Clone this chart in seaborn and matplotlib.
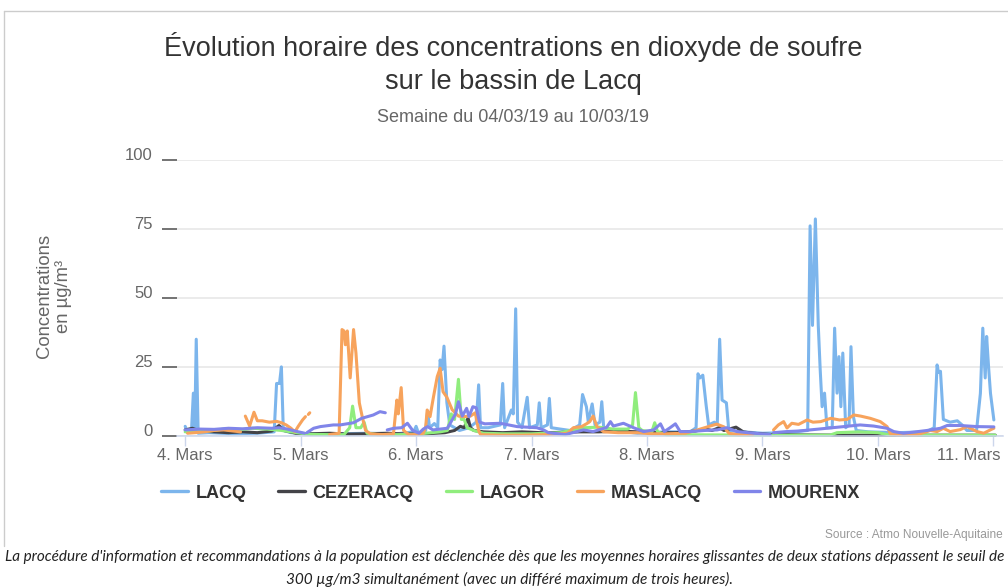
import numpy as np
import pandas as pd
import matplotlib
matplotlib.use("Agg")
import matplotlib.pyplot as plt
from matplotlib.lines import Line2D
from matplotlib.transforms import ScaledTranslation
import seaborn as sns

sns.set_theme(style="white")
plt.rcParams['font.family'] = ['Liberation Sans', 'DejaVu Sans']

# heures depuis le 4 mars 00h ; None = coupure de la série
stations = ["LACQ", "CEZERACQ", "LAGOR", "MASLACQ", "MOURENX"]
colors = ["#7cb5ec", "#434348", "#90ed7d", "#f7a35c", "#8085e9"]
day_labels = ["4. Mars", "5. Mars", "6. Mars", "7. Mars", "8. Mars", "9. Mars", "10. Mars", "11. Mars"]

lacq_h = [0.0, 0.5, 1.3, 1.7, 2.0, 2.3, 2.7, 5, 10, 15, 18.5, 19.0, 19.6, 20.0, 20.4, 22, 26, 32, 38, 44, 47.5,
          48.0, 48.5, 50.0, 50.4, 50.8, 51.8, 52.5, 53.0, 53.4, 53.8, 54.4, 55, 56, 57, 59, 60.5, 61.0, 61.4, 63,
          65.5, 66.0, 66.4, 67.8, 68.2, 68.7, 69.1, 70, 71.1, 71.6, 73.2, 73.6, 74.0, 75.3, 75.7, 76.1, 78, 80,
          82.0, 82.6, 83.4, 83.8, 84.6, 85.2, 86.2, 86.6, 87.0, 89, 94, 100, 105, 106.2, 106.6, 107.0, 107.6,
          108.3, 108.8, 110.0, 110.6, 111.1, 111.6, 112.5, 113.0, 116, 120, 125, 129.4, 129.9, 130.4, 131.0,
          131.6, 132.0, 132.4, 132.9, 133.4, 134.5, 135.0, 135.5, 135.9, 136.3, 136.7, 137.3, 138.0, 138.4,
          138.9, 139.5, 142, 148, 154, 155.7, 156.3, 156.6, 157.0, 157.6, 159, 160.5, 161.5, 162.5, 164.5,
          165.3, 165.8, 166.3, 166.6, 167.0, 167.4, 168.1]
lacq_v = [3.5, 1.2, 1.5, 15.5, 3, 35, 1, 1.2, 0.8, 1, 1.5, 19, 19, 25, 2, 1.2, 0.8, 0.8, 1, 0.8, 1.5,
          3.5, 1, 2, 9, 3, 4.5, 3, 27.5, 24, 32.5, 12, 4, 3, 2, 3, 5, 18.5, 3, 3,
          4, 19, 3, 9.4, 8, 46, 5, 3, 14, 3, 4, 12, 3, 4, 13.6, 3, 2.5, 2,
          4, 15, 10.6, 5, 11.6, 4, 5, 12.4, 3, 2, 1, 1.5, 1.5, 3, 22.5, 21, 22,
          11, 4, 5, 4, 35, 13, 12, 2, 1.5, 1, 1.2, 2, 76, 40, 78.5,
          40, 24, 10.6, 15.5, 3, 3, 39, 15.5, 28.7, 10.6, 30, 3, 4, 32.3,
          7, 2, 1.5, 1.2, 1.5, 3, 25.7, 23, 23.4, 6, 5, 5.5, 4, 2, 2,
          15.4, 39, 21, 36, 25, 15.4, 5.8]

cezeracq_h = [0, 1.5, 3, 6, 9, 12, 15, 18, 19.5, 20.5, 23, 26, 30, 34, 38, 42, 46, 50, 54, 56, 57.2, 58.0,
              58.8, 59.3, 60, 62, 66, 70, 74, 78, 82, 86, 90, 94, 98, 102, 106, 108, 109.5, 111, 112, 114.5,
              116, 118, 122, 128, 136, 144, 156, 168.4]
cezeracq_v = [2.2, 2.8, 1.8, 1.5, 1.2, 1.5, 1.2, 1.8, 3.8, 2, 1, 0.8, 1, 0.7, 0.8, 1, 0.7, 0.8, 1.2, 2, 3.5, 3,
              6.5, 3, 2, 1.5, 1.2, 1.5, 1.2, 1.3, 1.5, 1.5, 1.8, 1.5, 1.2, 1.2, 1.8, 2.5, 2, 3, 2, 3.2,
              1.5, 1, 0.5, 0.4, 0.3, 0.3, 0.3, 0.3]

lagor_h = [0, 2, 5, 8, 11, 14, 17, 20, 22, 24, 26, 30, 33, 34.2, 34.8, 35.5, 36.5, 37.2, 37.8, 40, 44, 48,
           50, 53, 54.5, 55.3, 56.0, 56.8, 57.4, 58.0, 58.6, 60, 62, 66, 72, 78, 80, 83, 86, 89, 92, 93.0,
           93.6, 94.3, 95, 97, 97.6, 98.2, 100, 110, 120, 134, 135.5, 140, 144, 146, 156, 168.4]
lagor_v = [1.5, 2, 1.8, 2.5, 2.2, 2.8, 2.5, 2, 1.5, 1, 0.6, 0.5, 0.5, 3, 10.8, 3, 3, 5, 1, 0.5, 0.5, 0.6,
           1, 1.5, 2, 8, 6, 20.5, 6, 6, 3, 2, 1, 0.8, 0.8, 1.2, 2, 3, 3.2, 2.5, 2.5, 4,
           15.7, 3, 2, 1.5, 4.8, 1.5, 0.5, 0.4, 0.3, 0.3, 1.2, 1.5, 1.2, 0.5, 0.3, 0.3]

maslacq_h = [0.5, 2, 4, 6, 8, 10, 11.5, None,
             12.5, 13.4, 14.3, 15.0, 16.0, 17.5, 19.0, 20.0, 21.0, 22.0, 22.8, 23.5, 24.4, 25.0, None,
             25.6, 25.9, None,
             30, 32.0, 32.6, 33.0, 33.3, 33.7, 34.3, 35.0, 35.5, 36.2, 36.8, 37.5, 38.5, 41, 43.3, 44.0, 44.3,
             44.9, 45.4, 46.5, 48, 49.5, 50.0, 50.3, 50.9, 51.6, 52.4, 53.0, 53.6, 54.4, 55.5, 56.8, 57.8,
             59.3, 60.3, 61.0, 61.4, 65, 70, 75, 79.5, 80.7, 82.4, 83.5, 84.1, 84.8, 85.6, 87, 90, 94, 97,
             100, 104, 106.5, 108.0, 109.5, 110.5, 112.0, 113.0, 115, 118, None,
             122.3, 123.3, 124.4, 125.1, 126.1, 127.5, 129.3, 130.5, 132.1, 134.2, 136, 137.6, 139.0, 140.4,
             142.4, 144.5, 145.9, 146.6, 148, 152, 154.9, 156.3, 157.6, 159.0, 161.1, 162.5, 164.6, 166.0,
             167.7, 168.1]
maslacq_v = [1, 1.2, 1.5, 2, 2.2, 1.8, 1.5, None,
             7.2, 3.6, 8.6, 5.5, 5.5, 5, 5.3, 4.8, 4, 2.8, 1.5, 3.5, 5.8, 7, None,
             7.8, 8.4, None,
             0.5, 1, 38.5, 38, 33, 38, 21, 38.5, 30, 12, 7, 2, 0.8, 0.5, 0.8, 13, 8,
             17.5, 2, 0.5, 0.5, 1, 3.4, 9.4, 7, 14, 21.5, 24.5, 16, 14, 9.5, 7.2, 7,
             7.2, 8.4, 2, 0.5, 0.3, 0.3, 0.5, 1, 3, 3.4, 4.5, 5.2, 7.2, 3.4, 1.5, 1.2, 1.2, 0.8,
             0.8, 1, 2.2, 3, 3.8, 4.3, 3.3, 1, 0.5, 0.5, None,
             2.2, 4, 5.2, 2.9, 4.6, 4.2, 5.8, 5, 5.2, 6.4, 5.8, 6, 7.6, 7.2,
             6.4, 5.2, 3.4, 0.8, 0.4, 0.4, 2, 1.6, 2.8, 1.6, 2.3, 3.4, 1.6, 1,
             2.5, 2.8]

mourenx_h = [0, 3, 6, 9, 12, 15, 18, 19.5, 21, 23.3, 24.8, None,
             25.3, 26.7, 28.1, 30.8, 32.2, 35.0, 36.7, 39.1, 40.5, 41.6, None,
             42.0, 43.4, 45, 46.2, 47.3, 48.6, 49.5, 50.4, 51.5, 53, 54.5, 56.2, 56.8, 57.6, 58.5, 59.0, 59.8,
             60.5, 61.2, 62.3, 65.5, 69.0, 71, 73.1, 74.5, 75.5, 79, 82.8, 84.8, 87.6, 88.4, 89.0, 91.1, 93.2,
             95.3, 97.4, 98.8, 99.6, 100.8, 101.9, 102.9, 105, 108, 110.6, 112.6, 114.7, 118.2, 121.6, None,
             122.3, 125, 127.5, 129.9, 133.4, 136.9, 140.3, 143.1, 145.9, 147.3, 149.3, 151.4, 154.2, 157.0,
             158.4, 161.1, 164.6, 168.1]
mourenx_v = [2.2, 2.5, 2.4, 2.8, 2.6, 3, 2.8, 3, 2.6, 1.6, 1, None,
             1.2, 2.8, 3.4, 4, 4, 4.8, 6.4, 7.6, 8.8, 8.4, None,
             2.2, 2.8, 3, 4.6, 2, 1, 2.5, 3.4, 2.2, 2.5, 2.8, 8, 12.4, 7.2, 10, 7, 10.6,
             10.2, 5, 4.4, 4.6, 3.4, 3.2, 3, 2.2, 1.2, 0.5, 2.2, 1.6, 3.1, 5.2, 3.6, 4.6, 3,
             1.6, 2.2, 4.4, 1.6, 3, 4.4, 1.6, 1.6, 2, 2.2, 3, 1.6, 1, 0.5, None,
             1.2, 1.6, 1.8, 2.2, 2.8, 3.4, 4, 3.6, 2.8, 1.6, 1, 1.4, 2, 2.8,
             3.8, 3.8, 3.4, 3.3]

series = {
    "LACQ": (lacq_h, lacq_v),
    "CEZERACQ": (cezeracq_h, cezeracq_v),
    "LAGOR": (lagor_h, lagor_v),
    "MASLACQ": (maslacq_h, maslacq_v),
    "MOURENX": (mourenx_h, mourenx_v),
}

frames = []
for name in stations:
    h, v = series[name]
    d = pd.DataFrame({"heure": pd.to_numeric(pd.Series(h), errors="coerce"),
                      "valeur": pd.to_numeric(pd.Series(v), errors="coerce")})
    d["segment"] = d["valeur"].isna().cumsum()
    d["station"] = name
    frames.append(d.dropna())
df = pd.concat(frames, ignore_index=True)

fig = plt.figure(figsize=(10.08, 5.88), dpi=100)
ax = fig.add_axes([177 / 1008, 152 / 588, 826 / 1008, 276.5 / 588])

sns.lineplot(data=df, x="heure", y="valeur", hue="station", hue_order=stations,
             palette=colors, units="segment", estimator=None, sort=False,
             lw=2.2, legend=False, ax=ax)
for ln in ax.lines:
    ln.set_clip_on(False)
    ln.set_solid_joinstyle("round")
    ln.set_solid_capstyle("round")

ax.set_xlim(-1.7, 170)
ax.set_ylim(0, 100)
ax.set_xlabel("")
ax.set_ylabel("")

ax.set_xticks(np.arange(0, 169, 24))
ax.set_xticklabels(day_labels)
ax.set_yticks([0, 25, 50, 75, 100])
ax.set_yticklabels(["0", "25", "50", "75", "100"])

ax.grid(axis="y", color="#e6e6e6", lw=1.1)
ax.grid(axis="x", visible=False)
ax.set_axisbelow(True)
for s in ["top", "right", "left"]:
    ax.spines[s].set_visible(False)
ax.spines["bottom"].set_color("#ccd6eb")
ax.spines["bottom"].set_linewidth(1.1)

ax.tick_params(axis="x", direction="out", length=7, width=1, color="#ccd6eb",
               labelsize=12, labelcolor="#666666", pad=1.5, bottom=True)
ax.tick_params(axis="y", direction="out", length=10.8, width=1.1, color="#4d4d4d",
               labelsize=12, labelcolor="#666666", pad=6.5, left=True)
shift = ScaledTranslation(0, 6 / 100, fig.dpi_scale_trans)
for lab in ax.get_yticklabels():
    lab.set_transform(lab.get_transform() + shift)
# le dernier libellé reste dans le cadre
last = ax.get_xticklabels()[-1]
last.set_transform(last.get_transform() + ScaledTranslation(-25 / 100, 0, fig.dpi_scale_trans))

fig.text(54 / 1008, 1 - 296 / 588, "Concentrations\nen µg/m³", rotation=90,
         ha="center", va="center", multialignment="center", fontsize=13.3,
         color="#666666", linespacing=1.2)

fig.text(513 / 1008, 1 - 47 / 588, "Évolution horaire des concentrations en dioxyde de soufre",
         ha="center", va="center", fontsize=19.5, color="#333333")
fig.text(513 / 1008, 1 - 82 / 588, "sur le bassin de Lacq",
         ha="center", va="center", fontsize=19.5, color="#333333")
fig.text(513 / 1008, 1 - 118 / 588, "Semaine du 04/03/19 au 10/03/19",
         ha="center", va="center", fontsize=13, color="#666666")

handles = [Line2D([0], [0], color=c, lw=2.4) for c in colors]
fig.legend(handles, stations, loc="center", bbox_to_anchor=(511 / 1008, 1 - 493 / 588),
           ncol=5, frameon=False, handlelength=1.45, handletextpad=0.45, columnspacing=1.75,
           prop={"weight": "bold", "size": 13, "family": ["Liberation Sans", "DejaVu Sans"]},
           labelcolor="#333333")

fig.text(1003 / 1008, 1 - 535 / 588, "Source : Atmo Nouvelle-Aquitaine",
         ha="right", va="center", fontsize=8.6, color="#999999")

cap1 = ("La procédure d'information et recommandations à la population est déclenchée dès que les "
        "moyennes horaires glissantes de deux stations dépassent le seuil de")
cap2 = "300 µg/m3 simultanément (avec un différé maximum de trois heures)."
fig.text(5 / 1008, 1 - 557 / 588, cap1, ha="left", va="center", fontsize=10.95,
         style="italic", color="#222222", family=["Lato", "DejaVu Sans"])
fig.text(509 / 1008, 1 - 579 / 588, cap2, ha="center", va="center", fontsize=11.1,
         style="italic", color="#222222", family=["Lato", "DejaVu Sans"])

# cadre du graphique
fig.add_artist(Line2D([4 / 1008, 1.0], [1 - 11 / 588, 1 - 11 / 588], color="#cccccc", lw=1))
fig.add_artist(Line2D([4 / 1008, 4 / 1008], [1 - 11 / 588, 1 - 546 / 588], color="#cccccc", lw=1))

fig.savefig("out.png", dpi=100)
